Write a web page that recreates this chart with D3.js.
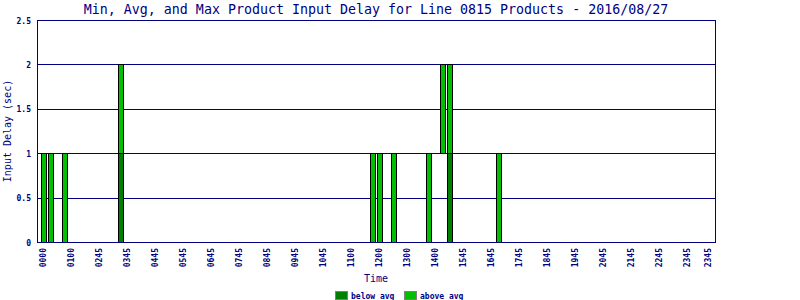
<!DOCTYPE html>
<html>
<head>
<meta charset="utf-8">
<script src="https://cdn.jsdelivr.net/npm/d3@7"></script>
<style>
    body { margin: 0; background: #ffffff; }
    text { font-family: 'DejaVu Sans Mono', monospace; fill: #000080; }
</style>
</head>
<body>
<svg id="chart"></svg>
<script>
// 96 quarter-hour slots, labelled every 4th slot plus the last
const slotCount = 96;
const tickSlots = [0, 4, 8, 12, 16, 20, 24, 28, 32, 36, 40, 44, 48, 52, 56, 60, 64, 68, 72, 76, 80, 84, 88, 92, 95];
const tickLabels = ['0000', '0100', '0245', '0345', '0445', '0545', '0645', '0745', '0845', '0945', '1045', '1100',
    '1200', '1300', '1400', '1545', '1645', '1745', '1845', '1945', '2045', '2145', '2245', '2345', '2345'];

// delay per slot (sec)
const barSlots = [0, 1, 3, 11, 47, 48, 50, 55, 57, 58, 65];
const minDelay = [0, 0, 0, 0, 0, 0, 0, 0, 1, 0, 0];
const avgDelay = [0, 0, 0, 1, 0, 0, 0, 0, 1, 1, 0];
const maxDelay = [1, 1, 1, 2, 1, 1, 1, 1, 2, 2, 1];

const yTicks = [0, 0.5, 1, 1.5, 2, 2.5];

const width = 800;
const height = 300;
const margin = {top: 20, right: 85, bottom: 58, left: 37};
const navy = '#000080';
const belowColor = '#008000';
const aboveColor = '#00c000';

const chart = d3.select('#chart')
    .attr('width', width)
    .attr('height', height);

const x = d3.scaleBand()
    .domain(d3.range(slotCount))
    .range([margin.left, width - margin.right])
    .paddingInner(2 / 7)
    .paddingOuter(0.57);

const y = d3.scaleLinear()
    .domain([0, 2.5])
    .range([height - margin.bottom, margin.top]);

chart.append('text')
    .attr('x', 376)
    .attr('y', 14)
    .attr('text-anchor', 'middle')
    .style('font-size', '13.3px')
    .text('Min, Avg, and Max Product Input Delay for Line 0815 Products - 2016/08/27');

// grid lines
chart.append('g')
    .selectAll('line')
    .data(yTicks)
    .enter()
    .append('line')
    .attr('x1', margin.left)
    .attr('x2', width - margin.right)
    .attr('y1', function(d) { return y(d) + 0.5; })
    .attr('y2', function(d) { return y(d) + 0.5; })
    .attr('stroke', navy)
    .attr('shape-rendering', 'crispEdges');

chart.append('g')
    .selectAll('text')
    .data(yTicks)
    .enter()
    .append('text')
    .attr('x', 31)
    .attr('y', function(d) { return y(d) + 3.5; })
    .attr('text-anchor', 'end')
    .style('font-size', '8px')
    .style('font-weight', 'bold')
    .text(function(d) { return d3.format('')(d); });

// bars: min..avg is below avg, avg..max is above avg
const bars = chart.append('g')
    .selectAll('g')
    .data(barSlots)
    .enter()
    .append('g');

bars.filter(function(d, i) { return avgDelay[i] > minDelay[i]; })
    .append('rect')
    .attr('x', function(d) { return x(d) + 0.5; })
    .attr('width', x.bandwidth())
    .attr('y', function(d, i) { return y(avgDelay[barSlots.indexOf(d)]) + 0.5; })
    .attr('height', function(d) {
        const i = barSlots.indexOf(d);
        return y(minDelay[i]) - y(avgDelay[i]);
    })
    .attr('fill', belowColor)
    .attr('stroke', '#000000')
    .attr('shape-rendering', 'crispEdges');

bars.append('rect')
    .attr('x', function(d) { return x(d) + 0.5; })
    .attr('width', x.bandwidth())
    .attr('y', function(d, i) { return y(maxDelay[i]) + 0.5; })
    .attr('height', function(d, i) { return y(avgDelay[i]) - y(maxDelay[i]); })
    .attr('fill', aboveColor)
    .attr('stroke', '#000000')
    .attr('shape-rendering', 'crispEdges');

// frame
chart.append('rect')
    .attr('x', margin.left + 0.5)
    .attr('y', margin.top + 0.5)
    .attr('width', width - margin.left - margin.right)
    .attr('height', height - margin.top - margin.bottom)
    .attr('fill', 'none')
    .attr('stroke', navy)
    .attr('shape-rendering', 'crispEdges');

chart.append('g')
    .selectAll('text')
    .data(tickSlots)
    .enter()
    .append('text')
    .attr('transform', function(d) {
        return 'translate(' + (x(d) + x.bandwidth() / 2 + 2.5) + ',' + 248 + ') rotate(-90)';
    })
    .attr('text-anchor', 'end')
    .style('font-size', '8px')
    .style('font-weight', 'bold')
    .text(function(d, i) { return tickLabels[i]; });

chart.append('text')
    .attr('x', 376)
    .attr('y', 282)
    .attr('text-anchor', 'middle')
    .style('font-size', '10px')
    .text('Time');

chart.append('text')
    .attr('transform', 'translate(11,131) rotate(-90)')
    .attr('text-anchor', 'middle')
    .style('font-size', '10px')
    .text('Input Delay (sec)');

// legend
const legend = chart.append('g')
    .selectAll('g')
    .data([['below avg', belowColor, 335], ['above avg', aboveColor, 404]])
    .enter()
    .append('g')
    .attr('transform', function(d) { return 'translate(' + d[2] + ',291)'; });

legend.append('rect')
    .attr('x', 0.5)
    .attr('y', 0.5)
    .attr('width', 12)
    .attr('height', 8)
    .attr('fill', function(d) { return d[1]; })
    .attr('stroke', '#808080')
    .attr('shape-rendering', 'crispEdges');

legend.append('text')
    .attr('x', 16)
    .attr('y', 7.5)
    .style('font-size', '8px')
    .style('font-weight', 'bold')
    .text(function(d) { return d[0]; });
</script>
</body>
</html>
